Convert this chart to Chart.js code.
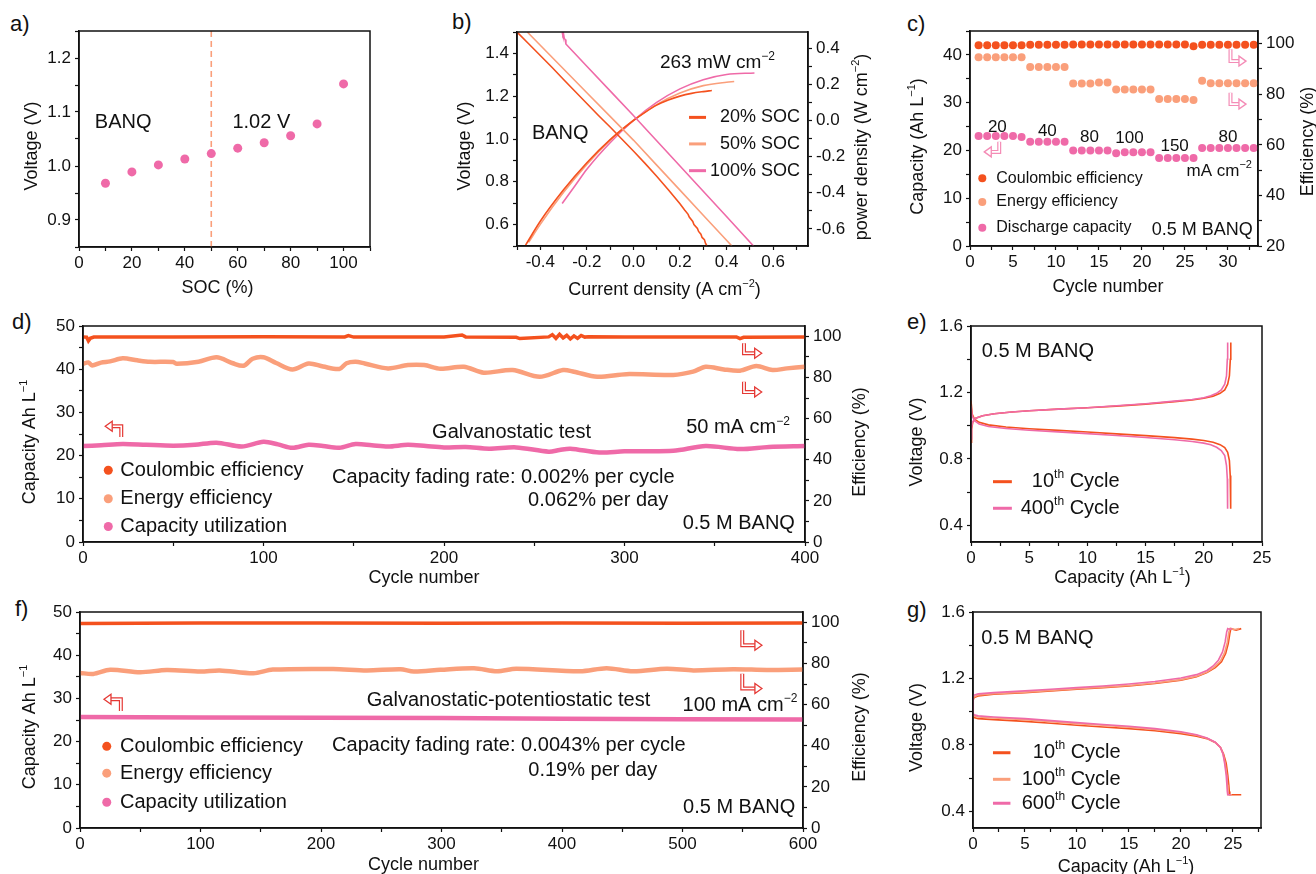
<!DOCTYPE html>
<html>
<head>
<meta charset="utf-8">
<title>BANQ flow battery</title>
<script src="https://cdn.jsdelivr.net/npm/chart.js@4.4.1/dist/chart.umd.min.js"></script>
<style>
  html, body { margin: 0; padding: 0; background: #fff; }
  body { position: relative; width: 1316px; height: 874px; overflow: hidden; }
  canvas { position: absolute; }
  .tag { position: absolute; font: 22px 'Liberation Sans', Arial, sans-serif; color: #111; line-height: 22px; }
</style>
</head>
<body>
<div class="tag" style="left:10px;top:13px">a)</div>
<div class="tag" style="left:452px;top:11px">b)</div>
<div class="tag" style="left:907px;top:13px">c)</div>
<div class="tag" style="left:12px;top:311px">d)</div>
<div class="tag" style="left:907px;top:311px">e)</div>
<div class="tag" style="left:15px;top:598px">f)</div>
<div class="tag" style="left:907px;top:599px">g)</div>
<canvas id="chartA"></canvas>
<canvas id="chartB"></canvas>
<canvas id="chartC"></canvas>
<canvas id="chartD"></canvas>
<canvas id="chartE"></canvas>
<canvas id="chartF"></canvas>
<canvas id="chartG"></canvas>
<script>
const FONT = "'Liberation Sans', Arial, Helvetica, sans-serif";
Chart.defaults.font.family = FONT;
Chart.defaults.color = '#111';

const RED = '#f4511e';
const SALMON = '#fa9f7b';
const PINK = '#ef6aa8';
const ARROW_RED = '#e53935';
const ARROW_PINK = '#f48cb6';

// a) voltage vs SOC
const aSoc = [10, 20, 30, 40, 50, 60, 70, 80, 90, 100];
const aVolt = [0.968, 0.989, 1.002, 1.013, 1.023, 1.033, 1.043, 1.056, 1.078, 1.152];
const aMarkSoc = 50;

// b) polarization (left axis) and power density (right axis)
const b20Cur = [-0.50, -0.45, -0.40, -0.35, -0.30, -0.25, -0.20, -0.15, -0.10, -0.05, 0.00, 0.05, 0.10, 0.15, 0.20, 0.22, 0.235, 0.24, 0.255, 0.26, 0.275, 0.28, 0.29, 0.295, 0.305, 0.31, 0.316];
const b20V = [1.50, 1.445, 1.39, 1.335, 1.278, 1.222, 1.166, 1.11, 1.056, 1.0, 0.944, 0.886, 0.826, 0.763, 0.697, 0.668, 0.648, 0.635, 0.615, 0.6, 0.582, 0.568, 0.555, 0.54, 0.53, 0.512, 0.50];
const b50Cur = [-0.456, -0.4, -0.3, -0.2, -0.1, 0.0, 0.1, 0.2, 0.3, 0.4, 0.423];
const b50V = [1.50, 1.438, 1.327, 1.216, 1.106, 0.995, 0.878, 0.761, 0.644, 0.527, 0.50];
const b100Cur = [-0.306, -0.303, -0.300, -0.297, -0.293, -0.29, -0.2, -0.1, 0.0, 0.1, 0.2, 0.3, 0.4, 0.516];
const b100V = [1.50, 1.485, 1.49, 1.47, 1.465, 1.444, 1.34, 1.225, 1.11, 0.992, 0.874, 0.756, 0.638, 0.50];
const b20PCur = [-0.463, -0.4, -0.3, -0.2, -0.1, 0.0, 0.05, 0.1, 0.15, 0.2, 0.25, 0.3, 0.337];
const b20P = [-0.69, -0.558, -0.384, -0.234, -0.106, 0.0, 0.045, 0.085, 0.113, 0.135, 0.15, 0.16, 0.166];
const b50PCur = [-0.45, -0.4, -0.3, -0.2, -0.1, 0.0, 0.1, 0.2, 0.3, 0.4, 0.433];
const b50P = [-0.675, -0.575, -0.398, -0.243, -0.11, 0.0, 0.088, 0.152, 0.193, 0.212, 0.216];
const b100PCur = [-0.306, -0.25, -0.2, -0.1, 0.0, 0.1, 0.2, 0.3, 0.4, 0.52];
const b100P = [-0.46, -0.36, -0.27, -0.123, 0.0, 0.1, 0.175, 0.226, 0.255, 0.263];
const bLabels = ['20% SOC', '50% SOC', '100% SOC'];

// c) rate performance
const cCycle = [1, 2, 3, 4, 5, 6, 7, 8, 9, 10, 11, 12, 13, 14, 15, 16, 17, 18, 19, 20, 21, 22, 23, 24, 25, 26, 27, 28, 29, 30, 31, 32, 33];
const cCE = [99.4, 99.4, 99.4, 99.4, 99.4, 99.4, 99.6, 99.6, 99.6, 99.6, 99.6, 99.7, 99.7, 99.7, 99.7, 99.7, 99.7, 99.7, 99.7, 99.7, 99.7, 99.7, 99.7, 99.7, 99.7, 99.0, 99.6, 99.6, 99.6, 99.6, 99.6, 99.6, 99.6];
const cEE = [94.6, 94.6, 94.6, 94.6, 94.6, 94.6, 90.8, 90.8, 90.8, 90.8, 90.8, 84.2, 84.2, 84.2, 84.6, 84.6, 81.9, 81.9, 81.9, 81.9, 81.9, 78.1, 78.1, 78.1, 78.1, 77.7, 85.3, 84.3, 84.3, 84.3, 84.3, 84.3, 84.3];
const cCap = [23.0, 23.0, 23.0, 23.0, 23.0, 22.8, 21.8, 21.8, 21.8, 21.8, 21.8, 20.0, 20.0, 20.0, 20.0, 20.0, 19.4, 19.6, 19.6, 19.6, 19.6, 18.4, 18.4, 18.4, 18.4, 18.4, 20.5, 20.5, 20.5, 20.5, 20.5, 20.5, 20.5];
const cRates = ['20', '40', '80', '100', '150', '80'];

// d) galvanostatic cycling, 50 mA cm-2
const dCECycle = [0, 2, 3, 4, 6, 50, 100, 145, 147, 150, 200, 210, 212, 240, 242, 258, 260, 262, 264, 266, 268, 270, 272, 274, 276, 278, 280, 300, 362, 364, 366, 400];
const dCE = [99.7, 99.6, 97.8, 99.0, 99.6, 99.7, 99.8, 99.7, 100.3, 99.6, 99.7, 100.6, 99.7, 99.5, 98.9, 99.7, 100.8, 99.0, 101.0, 99.2, 100.5, 98.7, 100.2, 99.0, 100.4, 99.6, 99.8, 99.7, 99.7, 98.9, 99.5, 99.7];
const dEECycle = [0, 3, 5, 10, 15, 22, 30, 37, 50, 52, 64, 74, 83, 89, 94, 100, 107, 116, 125, 133, 142, 146, 151, 156, 169, 180, 189, 198, 211, 222, 238, 253, 266, 272, 285, 301, 327, 338, 345, 355, 364, 373, 382, 390, 400];
const dEE = [86.6, 87.3, 85.8, 87.2, 87.8, 89.3, 88.3, 87.6, 87.5, 86.6, 87.6, 89.8, 86.9, 85.7, 89.1, 89.8, 87.0, 83.9, 86.8, 85.3, 84.1, 86.9, 87.6, 86.8, 84.4, 86.0, 86.0, 84.2, 85.2, 82.3, 83.6, 80.3, 83.6, 82.8, 80.3, 81.6, 81.2, 82.8, 85.2, 83.9, 83.3, 85.5, 83.6, 84.4, 85.2];
const dCapCycle = [0, 10, 22, 35, 50, 62, 74, 88, 100, 108, 116, 125, 133, 142, 151, 160, 169, 180, 190, 200, 212, 225, 240, 258, 264, 270, 286, 300, 327, 345, 364, 380, 400];
const dCap = [22.2, 22.4, 22.7, 22.5, 22.3, 22.5, 23.0, 22.1, 23.2, 22.6, 21.8, 22.5, 22.2, 21.8, 22.7, 22.4, 22.1, 22.5, 22.2, 21.9, 22.0, 21.6, 21.9, 20.9, 21.3, 21.6, 20.7, 21.0, 21.1, 22.2, 21.5, 22.0, 22.2];

// e) charge/discharge curves, 10th and 400th cycle
const e10ChgCap = [0.0, 0.05, 0.15, 0.4, 1, 2, 3.5, 5, 7.5, 10, 12.5, 15, 17.5, 19, 20, 20.8, 21.4, 21.8, 22.05, 22.2, 22.28, 22.32];
const e10ChgV = [0.90, 0.98, 1.02, 1.045, 1.06, 1.072, 1.082, 1.09, 1.1, 1.108, 1.118, 1.13, 1.145, 1.155, 1.165, 1.178, 1.195, 1.215, 1.25, 1.3, 1.4, 1.5];
const e400ChgCap = [0.0, 0.05, 0.15, 0.4, 1, 2, 3.5, 5, 7.5, 10, 12.5, 15, 17.5, 19, 20, 20.6, 21.1, 21.5, 21.8, 21.95, 22.02, 22.05];
const e400ChgV = [0.92, 0.99, 1.025, 1.045, 1.06, 1.072, 1.082, 1.09, 1.1, 1.108, 1.12, 1.132, 1.148, 1.158, 1.168, 1.18, 1.195, 1.215, 1.25, 1.3, 1.4, 1.5];
const e10DisCap = [0.0, 0.1, 0.3, 0.7, 1.5, 3, 5, 7.5, 10, 12.5, 15, 17.5, 19, 20, 20.8, 21.4, 21.8, 22.05, 22.2, 22.27, 22.3, 22.32];
const e10DisV = [1.15, 1.07, 1.04, 1.02, 1.005, 0.992, 0.982, 0.972, 0.962, 0.951, 0.94, 0.928, 0.919, 0.911, 0.9, 0.886, 0.868, 0.84, 0.79, 0.7, 0.6, 0.5];
const e400DisCap = [0.0, 0.1, 0.3, 0.7, 1.5, 3, 5, 7.5, 10, 12.5, 15, 17.5, 19, 20, 20.6, 21.1, 21.5, 21.8, 21.95, 22.02, 22.04, 22.05];
const e400DisV = [1.12, 1.06, 1.03, 1.01, 0.995, 0.983, 0.973, 0.963, 0.952, 0.941, 0.929, 0.915, 0.905, 0.895, 0.885, 0.87, 0.85, 0.82, 0.76, 0.68, 0.6, 0.5];

// f) galvanostatic-potentiostatic cycling, 100 mA cm-2
const fCECycle = [0, 100, 200, 300, 400, 500, 600];
const fCE = [99.4, 99.6, 99.6, 99.5, 99.6, 99.5, 99.6];
const fEECycle = [0, 11, 25, 50, 72, 100, 116, 144, 160, 210, 238, 266, 277, 299, 327, 346, 362, 415, 437, 459, 487, 509, 542, 570, 600];
const fEE = [75.4, 74.9, 76.9, 75.7, 76.8, 76.1, 76.6, 75.2, 77.0, 77.3, 76.6, 77.2, 76.1, 76.9, 77.7, 76.2, 77.4, 76.2, 77.7, 76.2, 77.4, 76.6, 77.2, 76.8, 77.0];
const fCapCycle = [0, 100, 200, 300, 400, 500, 600];
const fCap = [25.7, 25.6, 25.5, 25.45, 25.3, 25.2, 25.1];

// g) charge/discharge curves, 10th, 100th, 600th cycle
const g10ChgCap = [0, 0.02, 0.1, 0.5, 2, 5, 7.5, 10, 12.5, 15, 17.5, 20, 21.5, 22.5, 23.3, 23.9, 24.3, 24.55, 24.7, 24.8, 25.3, 25.8];
const g10ChgV = [0.975, 1.07, 1.085, 1.095, 1.105, 1.115, 1.125, 1.135, 1.145, 1.155, 1.17, 1.19, 1.21, 1.235, 1.265, 1.3, 1.35, 1.41, 1.47, 1.5, 1.49, 1.5];
const g100ChgCap = [0, 0.02, 0.1, 0.5, 2, 5, 7.5, 10, 12.5, 15, 17.5, 20, 21.5, 22.5, 23.2, 23.8, 24.2, 24.45, 24.6, 24.7, 25.2, 25.6];
const g100ChgV = [0.985, 1.08, 1.09, 1.1, 1.108, 1.118, 1.128, 1.138, 1.148, 1.158, 1.173, 1.193, 1.213, 1.238, 1.268, 1.305, 1.355, 1.415, 1.475, 1.5, 1.495, 1.5];
const g600ChgCap = [0, 0.02, 0.1, 0.5, 2, 5, 7.5, 10, 12.5, 15, 17.5, 20, 21.5, 22.5, 23.1, 23.6, 24.0, 24.25, 24.4, 24.5, 24.7, 24.9];
const g600ChgV = [0.99, 1.09, 1.1, 1.107, 1.115, 1.125, 1.135, 1.145, 1.155, 1.167, 1.182, 1.203, 1.223, 1.248, 1.275, 1.31, 1.36, 1.42, 1.48, 1.5, 1.495, 1.5];
const g10DisCap = [0, 0.1, 0.5, 2, 5, 7.5, 10, 12.5, 15, 17.5, 20, 21.5, 22.5, 23.3, 23.8, 24.1, 24.35, 24.5, 24.6, 24.65, 24.7, 25.2, 25.8];
const g10DisV = [0.975, 0.965, 0.958, 0.952, 0.942, 0.93, 0.918, 0.908, 0.898, 0.885, 0.868, 0.853, 0.838, 0.815, 0.785, 0.745, 0.69, 0.62, 0.56, 0.52, 0.5, 0.5, 0.5];
const g100DisCap = [0, 0.1, 0.5, 2, 5, 7.5, 10, 12.5, 15, 17.5, 20, 21.5, 22.5, 23.3, 23.8, 24.05, 24.25, 24.4, 24.48, 24.52, 24.55, 24.9];
const g100DisV = [0.985, 0.975, 0.968, 0.962, 0.952, 0.94, 0.928, 0.918, 0.907, 0.893, 0.875, 0.858, 0.84, 0.815, 0.785, 0.745, 0.69, 0.62, 0.56, 0.52, 0.5, 0.5];
const g600DisCap = [0, 0.1, 0.5, 2, 5, 7.5, 10, 12.5, 15, 17.5, 20, 21.5, 22.5, 23.3, 23.8, 24.05, 24.2, 24.35, 24.42, 24.46, 24.5, 24.8];
const g600DisV = [0.99, 0.982, 0.975, 0.968, 0.958, 0.946, 0.934, 0.923, 0.912, 0.898, 0.879, 0.861, 0.842, 0.816, 0.785, 0.745, 0.69, 0.62, 0.56, 0.52, 0.5, 0.5];

// ---- helpers ----
const LW = 70, BH = 60, PT = 15;

function pts(xs, ys) { return xs.map((x, i) => ({ x: x, y: ys[i] })); }

function line(xs, ys, color, width, yAxisID, tension) {
  return { data: pts(xs, ys), showLine: true, borderColor: color, backgroundColor: color,
    borderWidth: width, pointRadius: 0, yAxisID: yAxisID || 'y', tension: tension || 0 };
}

function dots(xs, ys, color, r, yAxisID) {
  return { data: pts(xs, ys), showLine: false, backgroundColor: color, borderWidth: 0,
    pointRadius: r, yAxisID: yAxisID || 'y' };
}

function ax(o) {
  return {
    type: 'linear', position: o.pos, min: o.min, max: o.max,
    border: { color: '#111', width: 1.5 },
    grid: { drawOnChartArea: false, drawTicks: true, tickLength: 4, tickColor: '#111', tickWidth: 1.2 },
    ticks: {
      stepSize: o.minor, autoSkip: false, maxRotation: 0, includeBounds: false,
      padding: o.pos === 'bottom' ? 2 : 4, color: '#111', font: { size: 17 },
      callback: function(v) {
        const r = v / o.major;
        if (Math.abs(r - Math.round(r)) > 1e-6) return '';
        return (Math.abs(v) < 1e-9 ? 0 : v).toFixed(o.dec);
      }
    },
    afterFit: o.pos === 'bottom' ? function(s) { s.height = BH; } : function(s) { s.width = o.w; }
  };
}

function drawRich(ctx, str, x, y, size, align, rot) {
  const parts = [];
  str.split(/(\^\{[^}]*\})/).forEach(function(p) {
    if (!p) return;
    if (p.indexOf('^{') === 0) parts.push({ t: p.slice(2, -1), sup: true });
    else parts.push({ t: p, sup: false });
  });
  let w = 0;
  parts.forEach(function(p) {
    p.fs = p.sup ? Math.round(size * 0.62) : size;
    ctx.font = p.fs + 'px ' + FONT;
    p.w = ctx.measureText(p.t).width;
    w += p.w;
  });
  ctx.save();
  ctx.translate(x, y);
  if (rot) ctx.rotate(rot);
  let cx = align === 'center' ? -w / 2 : (align === 'right' ? -w : 0);
  ctx.textBaseline = 'middle';
  ctx.textAlign = 'left';
  ctx.fillStyle = '#111';
  parts.forEach(function(p) {
    ctx.font = p.fs + 'px ' + FONT;
    ctx.fillText(p.t, cx, p.sup ? -size * 0.33 : 0);
    cx += p.w;
  });
  ctx.restore();
}

function drawArrow(ctx, p, color) {
  const n = p.length;
  const x1 = p[n - 2][0], y1 = p[n - 2][1], x2 = p[n - 1][0], y2 = p[n - 1][1];
  const ang = Math.atan2(y2 - y1, x2 - x1), hl = 7, hw = 5;
  const sx = x2 - Math.cos(ang) * hl, sy = y2 - Math.sin(ang) * hl;
  ctx.save();
  ctx.lineJoin = 'miter';
  ctx.beginPath();
  ctx.moveTo(p[0][0], p[0][1]);
  for (let i = 1; i < n - 1; i++) ctx.lineTo(p[i][0], p[i][1]);
  ctx.lineTo(sx, sy);
  ctx.strokeStyle = color; ctx.lineWidth = 4; ctx.stroke();
  ctx.strokeStyle = '#fff'; ctx.lineWidth = 1.6; ctx.stroke();
  ctx.beginPath();
  ctx.moveTo(x2, y2);
  ctx.lineTo(sx - Math.sin(ang) * hw, sy + Math.cos(ang) * hw);
  ctx.lineTo(sx + Math.sin(ang) * hw, sy - Math.cos(ang) * hw);
  ctx.closePath();
  ctx.fillStyle = '#fff'; ctx.fill();
  ctx.strokeStyle = color; ctx.lineWidth = 1.3; ctx.stroke();
  ctx.restore();
}

// frame, axis titles, notes, legend keys and arrows
const extras = {
  id: 'extras',
  afterDraw: function(chart, args, o) {
    const ctx = chart.ctx, a = chart.chartArea, sx = chart.scales.x;
    const X = function(v) { return sx.getPixelForValue(v); };
    const Y = function(v, id) { return chart.scales[id || 'y'].getPixelForValue(v); };
    const mid = (a.top + a.bottom) / 2, cen = (a.left + a.right) / 2;
    ctx.save();
    ctx.strokeStyle = '#111'; ctx.lineWidth = 1.5;
    ctx.strokeRect(a.left, a.top, a.right - a.left, a.bottom - a.top);
    (o.titles || []).forEach(function(t) {
      if (t.side === 'bottom') drawRich(ctx, t.t, cen + t.shift, a.bottom + t.d, 18, 'center', 0);
      else drawRich(ctx, t.t, (t.side === 'left' ? a.left : a.right) + t.d, mid + t.shift, 18, 'center', -Math.PI / 2);
    });
    (o.keys || []).forEach(function(k) {
      const y = Y(k.y);
      if (k.mark === 'dot') {
        ctx.beginPath(); ctx.arc(X(k.x), y, k.r || 4, 0, 2 * Math.PI);
        ctx.fillStyle = k.color; ctx.fill();
      } else {
        ctx.beginPath(); ctx.moveTo(X(k.x), y); ctx.lineTo(X(k.x2), y);
        ctx.strokeStyle = k.color; ctx.lineWidth = 3; ctx.stroke();
      }
      drawRich(ctx, k.t, X(k.tx), y, k.size, k.align || 'left', 0);
    });
    (o.notes || []).forEach(function(n) {
      drawRich(ctx, n.t, X(n.x), Y(n.y), n.size, n.align || 'left', 0);
    });
    (o.arrows || []).forEach(function(ar) {
      drawArrow(ctx, ar.p.map(function(q) { return [X(q[0]), Y(q[1])]; }), ar.color);
    });
    ctx.restore();
  }
};

function makeChart(id, box, datasets, scales, extraOpts) {
  const cv = document.getElementById(id);
  cv.width = box.r - box.l + LW + box.rw;
  cv.height = box.b - box.t + PT + BH;
  cv.style.left = (box.l - LW) + 'px';
  cv.style.top = (box.t - PT) + 'px';
  return new Chart(cv, {
    type: 'scatter',
    data: { datasets: datasets },
    options: {
      responsive: false, animation: false, events: [],
      layout: { padding: { top: PT, left: 0, bottom: 0, right: scales.y2 ? 0 : box.rw } },
      scales: scales,
      plugins: { legend: { display: false }, tooltip: { enabled: false }, extras: extraOpts }
    },
    plugins: [extras]
  });
}

// ---- a ----
makeChart('chartA', { l: 79, t: 31, r: 370, b: 247, rw: 20 }, [
  dots(aSoc, aVolt, PINK, 4.5),
  Object.assign(line([aMarkSoc, aMarkSoc], [0.85, 1.25], SALMON, 1.6), { borderDash: [6, 4] })
], {
  x: ax({ pos: 'bottom', min: 0, max: 110, minor: 10, major: 20, dec: 0 }),
  y: ax({ pos: 'left', min: 0.85, max: 1.25, minor: 0.05, major: 0.1, dec: 1, w: LW })
}, {
  titles: [
    { side: 'left', t: 'Voltage (V)', d: -47, shift: 7 },
    { side: 'bottom', t: 'SOC (%)', d: 41, shift: -7 }
  ],
  notes: [
    { x: 6, y: 1.081, t: 'BANQ', size: 20 },
    { x: 58, y: 1.08, t: '1.02 V', size: 20 }
  ]
});

// ---- b ----
makeChart('chartB', { l: 517, t: 32, r: 808, b: 246, rw: 66 }, [
  line(b20Cur, b20V, RED, 1.6),
  line(b50Cur, b50V, SALMON, 1.6),
  line(b100Cur, b100V, PINK, 1.6),
  Object.assign(line(b20PCur, b20P, RED, 1.6, 'y2', 0.4), { cubicInterpolationMode: 'monotone' }),
  Object.assign(line(b50PCur, b50P, SALMON, 1.6, 'y2', 0.4), { cubicInterpolationMode: 'monotone' }),
  Object.assign(line(b100PCur, b100P, PINK, 1.6, 'y2', 0.4), { cubicInterpolationMode: 'monotone' })
], {
  x: ax({ pos: 'bottom', min: -0.5, max: 0.75, minor: 0.1, major: 0.2, dec: 1 }),
  y: ax({ pos: 'left', min: 0.5, max: 1.5, minor: 0.1, major: 0.2, dec: 1, w: LW }),
  y2: ax({ pos: 'right', min: -0.695, max: 0.49, minor: 0.1, major: 0.2, dec: 1, w: 66 })
}, {
  titles: [
    { side: 'left', t: 'Voltage (V)', d: -52, shift: 7 },
    { side: 'bottom', t: 'Current density (A cm^{−2})', d: 44, shift: 2 },
    { side: 'right', t: 'power density (W cm^{−2})', d: 54, shift: 8 }
  ],
  notes: [
    { x: 0.114, y: 1.354, t: '263 mW cm^{−2}', size: 19 },
    { x: -0.436, y: 1.027, t: 'BANQ', size: 20 }
  ],
  keys: [
    { mark: 'line', x: 0.239, x2: 0.312, y: 1.101, color: RED, tx: 0.716, t: bLabels[0], size: 18, align: 'right' },
    { mark: 'line', x: 0.239, x2: 0.312, y: 0.977, color: SALMON, tx: 0.716, t: bLabels[1], size: 18, align: 'right' },
    { mark: 'line', x: 0.239, x2: 0.312, y: 0.852, color: PINK, tx: 0.716, t: bLabels[2], size: 18, align: 'right' }
  ]
});

// ---- c ----
makeChart('chartC', { l: 970, t: 31, r: 1258, b: 246, rw: 66 }, [
  dots(cCycle, cCE, RED, 4, 'y2'),
  dots(cCycle, cEE, SALMON, 4, 'y2'),
  dots(cCycle, cCap, PINK, 4)
], {
  x: ax({ pos: 'bottom', min: 0, max: 33.5, minor: 2.5, major: 5, dec: 0 }),
  y: ax({ pos: 'left', min: 0, max: 45, minor: 5, major: 10, dec: 0, w: LW }),
  y2: ax({ pos: 'right', min: 20, max: 105, minor: 10, major: 20, dec: 0, w: 66 })
}, {
  titles: [
    { side: 'left', t: 'Capacity (Ah L^{−1})', d: -52, shift: 8 },
    { side: 'bottom', t: 'Cycle number', d: 41, shift: -6 },
    { side: 'right', t: 'Efficiency (%)', d: 50, shift: 3 }
  ],
  notes: [
    { x: 3.18, y: 24.9, t: cRates[0], size: 17, align: 'center' },
    { x: 9.0, y: 23.9, t: cRates[1], size: 17, align: 'center' },
    { x: 13.9, y: 22.8, t: cRates[2], size: 17, align: 'center' },
    { x: 18.55, y: 22.6, t: cRates[3], size: 17, align: 'center' },
    { x: 23.8, y: 20.9, t: cRates[4], size: 17, align: 'center' },
    { x: 30.0, y: 22.8, t: cRates[5], size: 17, align: 'center' },
    { x: 32.8, y: 15.7, t: 'mA cm^{−2}', size: 17, align: 'right' },
    { x: 32.9, y: 3.35, t: '0.5 M BANQ', size: 18, align: 'right' }
  ],
  keys: [
    { mark: 'dot', x: 1.43, y: 14.2, color: RED, tx: 3.06, t: 'Coulombic efficiency', size: 16 },
    { mark: 'dot', x: 1.43, y: 9.2, color: SALMON, tx: 3.06, t: 'Energy efficiency', size: 16 },
    { mark: 'dot', x: 1.43, y: 3.8, color: PINK, tx: 3.06, t: 'Discharge capacity', size: 16 }
  ],
  arrows: [
    { p: [[3.4, 21.8], [3.4, 19.7], [1.66, 19.7]], color: ARROW_PINK },
    { p: [[30.3, 41.2], [30.3, 38.7], [32.1, 38.7]], color: ARROW_PINK },
    { p: [[30.3, 32.1], [30.3, 29.7], [32.1, 29.7]], color: ARROW_PINK }
  ]
});

// ---- d ----
makeChart('chartD', { l: 83, t: 326, r: 805, b: 542, rw: 66 }, [
  line(dCECycle, dCE, RED, 3.5, 'y2'),
  line(dEECycle, dEE, SALMON, 4.5, 'y2', 0.3),
  line(dCapCycle, dCap, PINK, 4.5, 'y', 0.3)
], {
  x: ax({ pos: 'bottom', min: 0, max: 400, minor: 50, major: 100, dec: 0 }),
  y: ax({ pos: 'left', min: 0, max: 50, minor: 5, major: 10, dec: 0, w: LW }),
  y2: ax({ pos: 'right', min: 0, max: 105, minor: 10, major: 20, dec: 0, w: 66 })
}, {
  titles: [
    { side: 'left', t: 'Capacity Ah L^{−1}', d: -53, shift: 8 },
    { side: 'bottom', t: 'Cycle number', d: 36, shift: -20 },
    { side: 'right', t: 'Efficiency (%)', d: 55, shift: 8 }
  ],
  notes: [
    { x: 193.4, y: 25.4, t: 'Galvanostatic test', size: 20 },
    { x: 391.6, y: 26.4, t: '50 mA cm^{−2}', size: 20, align: 'right' },
    { x: 138, y: 15.0, t: 'Capacity fading rate: 0.002% per cycle', size: 20 },
    { x: 246.6, y: 9.7, t: '0.062% per day', size: 20 },
    { x: 394.4, y: 4.3, t: '0.5 M BANQ', size: 20, align: 'right' }
  ],
  keys: [
    { mark: 'dot', x: 14, y: 16.6, r: 4.5, color: RED, tx: 20.7, t: 'Coulombic efficiency', size: 20 },
    { mark: 'dot', x: 14, y: 10.0, r: 4.5, color: SALMON, tx: 20.7, t: 'Energy efficiency', size: 20 },
    { mark: 'dot', x: 14, y: 3.6, r: 4.5, color: PINK, tx: 20.7, t: 'Capacity utilization', size: 20 }
  ],
  arrows: [
    { p: [[21.2, 24.3], [21.2, 26.8], [12.3, 26.8]], color: ARROW_RED },
    { p: [[366.2, 46.0], [366.2, 43.7], [376, 43.7]], color: ARROW_RED },
    { p: [[366.2, 37.1], [366.2, 34.7], [376, 34.7]], color: ARROW_RED }
  ]
});

// ---- e ----
makeChart('chartE', { l: 971, t: 326, r: 1262, b: 542, rw: 20 }, [
  line(e400ChgCap, e400ChgV, PINK, 1.6),
  line(e400DisCap, e400DisV, PINK, 1.6),
  line(e10ChgCap, e10ChgV, RED, 1.6),
  line(e10DisCap, e10DisV, RED, 1.6)
], {
  x: ax({ pos: 'bottom', min: 0, max: 25, minor: 2.5, major: 5, dec: 0 }),
  y: ax({ pos: 'left', min: 0.3, max: 1.6, minor: 0.2, major: 0.4, dec: 1, w: LW })
}, {
  titles: [
    { side: 'left', t: 'Voltage (V)', d: -54, shift: 8 },
    { side: 'bottom', t: 'Capacity (Ah L^{−1})', d: 36, shift: 6 }
  ],
  notes: [{ x: 0.92, y: 1.445, t: '0.5 M BANQ', size: 20 }],
  keys: [
    { mark: 'line', x: 1.89, x2: 3.51, y: 0.663, color: RED, tx: 12.77, t: '10^{th} Cycle', size: 20, align: 'right' },
    { mark: 'line', x: 1.89, x2: 3.51, y: 0.503, color: PINK, tx: 12.77, t: '400^{th} Cycle', size: 20, align: 'right' }
  ]
});

// ---- f ----
makeChart('chartF', { l: 80, t: 612, r: 803, b: 828, rw: 66 }, [
  line(fCECycle, fCE, RED, 3.5, 'y2'),
  line(fEECycle, fEE, SALMON, 4.5, 'y2', 0.3),
  line(fCapCycle, fCap, PINK, 4.5)
], {
  x: ax({ pos: 'bottom', min: 0, max: 600, minor: 50, major: 100, dec: 0 }),
  y: ax({ pos: 'left', min: 0, max: 50, minor: 5, major: 10, dec: 0, w: LW }),
  y2: ax({ pos: 'right', min: 0, max: 105, minor: 10, major: 20, dec: 0, w: 66 })
}, {
  titles: [
    { side: 'left', t: 'Capacity Ah L^{−1}', d: -50, shift: 7 },
    { side: 'bottom', t: 'Cycle number', d: 37, shift: -18 },
    { side: 'right', t: 'Efficiency (%)', d: 57, shift: 7 }
  ],
  notes: [
    { x: 238, y: 29.6, t: 'Galvanostatic-potentiostatic test', size: 20 },
    { x: 595.3, y: 28.4, t: '100 mA cm^{−2}', size: 20, align: 'right' },
    { x: 209.2, y: 19.1, t: 'Capacity fading rate: 0.0043% per cycle', size: 20 },
    { x: 372, y: 13.4, t: '0.19% per day', size: 20 },
    { x: 593.6, y: 4.8, t: '0.5 M BANQ', size: 20, align: 'right' }
  ],
  keys: [
    { mark: 'dot', x: 22.2, y: 18.9, r: 4.5, color: RED, tx: 33.2, t: 'Coulombic efficiency', size: 20 },
    { mark: 'dot', x: 22.2, y: 12.7, r: 4.5, color: SALMON, tx: 33.2, t: 'Energy efficiency', size: 20 },
    { mark: 'dot', x: 22.2, y: 5.95, r: 4.5, color: PINK, tx: 33.2, t: 'Capacity utilization', size: 20 }
  ],
  arrows: [
    { p: [[33.9, 27.1], [33.9, 29.8], [19.9, 29.8]], color: ARROW_RED },
    { p: [[549.6, 45.8], [549.6, 42.3], [565.9, 42.3]], color: ARROW_RED },
    { p: [[549.6, 35.7], [549.6, 32.3], [565.9, 32.3]], color: ARROW_RED }
  ]
});

// ---- g ----
makeChart('chartG', { l: 973, t: 612, r: 1261, b: 828, rw: 20 }, [
  line(g600ChgCap, g600ChgV, PINK, 1.6),
  line(g600DisCap, g600DisV, PINK, 1.6),
  line(g100ChgCap, g100ChgV, SALMON, 1.6),
  line(g100DisCap, g100DisV, SALMON, 1.6),
  line(g10ChgCap, g10ChgV, RED, 1.6),
  line(g10DisCap, g10DisV, RED, 1.6)
], {
  x: ax({ pos: 'bottom', min: 0, max: 27.7, minor: 2.5, major: 5, dec: 0 }),
  y: ax({ pos: 'left', min: 0.3, max: 1.6, minor: 0.2, major: 0.4, dec: 1, w: LW })
}, {
  titles: [
    { side: 'left', t: 'Voltage (V)', d: -56, shift: 7.5 },
    { side: 'bottom', t: 'Capacity (Ah L^{−1})', d: 39, shift: 9 }
  ],
  notes: [{ x: 0.8, y: 1.442, t: '0.5 M BANQ', size: 20 }],
  keys: [
    { mark: 'line', x: 1.92, x2: 3.6, y: 0.753, color: RED, tx: 14.2, t: '10^{th} Cycle', size: 20, align: 'right' },
    { mark: 'line', x: 1.92, x2: 3.6, y: 0.593, color: SALMON, tx: 14.2, t: '100^{th} Cycle', size: 20, align: 'right' },
    { mark: 'line', x: 1.92, x2: 3.6, y: 0.449, color: PINK, tx: 14.2, t: '600^{th} Cycle', size: 20, align: 'right' }
  ]
});
</script>
</body>
</html>
